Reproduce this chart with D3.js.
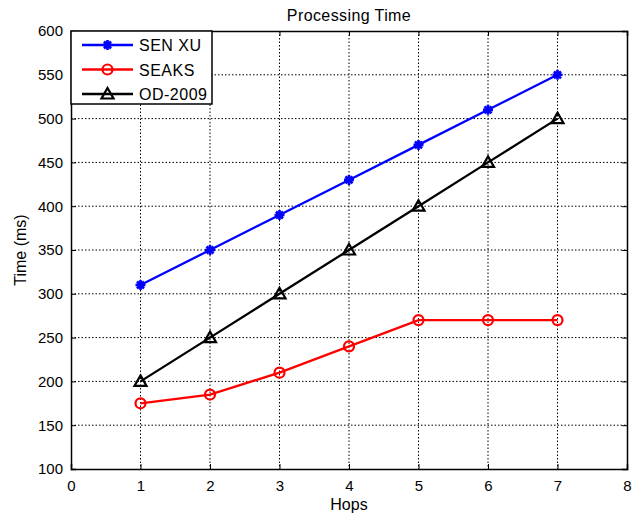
<!DOCTYPE html>
<html>
<head>
<meta charset="utf-8">
<script src="https://cdn.jsdelivr.net/npm/d3@7"></script>
<style>
body { margin: 0; background: #fff; }
text { font-family: "Liberation Sans", Arial, sans-serif; }
</style>
</head>
<body>
<svg id="chart"></svg>
<script>
const hops = [1, 2, 3, 4, 5, 6, 7];
const senXu = [310, 350, 390, 430, 470, 510, 550];
const seaks = [175, 185, 210, 240, 270, 270, 270];
const od2009 = [200, 250, 300, 350, 400, 450, 500];
const xTicks = [0, 1, 2, 3, 4, 5, 6, 7, 8];
const yTicks = [100, 150, 200, 250, 300, 350, 400, 450, 500, 550, 600];

const series = [
    { name: 'SEN XU', values: senXu, color: '#0000ff', marker: 'star' },
    { name: 'SEAKS', values: seaks, color: '#ff0000', marker: 'circle' },
    { name: 'OD-2009', values: od2009, color: '#000000', marker: 'triangle' }
];

const width = 641, height = 516;
const margin = { top: 31, right: 14, bottom: 47, left: 71 };
const innerW = width - margin.left - margin.right;
const innerH = height - margin.top - margin.bottom;

const svg = d3.select('#chart').attr('width', width).attr('height', height);
const chart = svg.append('g').attr('transform', `translate(${margin.left},${margin.top})`);

const xscale = d3.scaleLinear().domain([0, 8]).range([0, innerW]);
const yscale = d3.scaleLinear().domain([100, 600]).range([innerH, 0]);

// grid
chart.selectAll('.gx').data(xTicks.slice(1, -1)).enter().append('line')
    .attr('x1', d => xscale(d)).attr('x2', d => xscale(d))
    .attr('y1', 0).attr('y2', innerH)
    .attr('stroke', '#000').attr('stroke-width', 1).attr('stroke-dasharray', '1.5,2');
chart.selectAll('.gy').data(yTicks.slice(1, -1)).enter().append('line')
    .attr('x1', 0).attr('x2', innerW)
    .attr('y1', d => yscale(d)).attr('y2', d => yscale(d))
    .attr('stroke', '#000').attr('stroke-width', 1).attr('stroke-dasharray', '1.5,2');

// axes
const xaxis = d3.axisBottom(xscale).tickValues(xTicks).tickSize(-5).tickPadding(11).tickFormat(d3.format('d'));
const yaxis = d3.axisLeft(yscale).tickValues(yTicks).tickSize(-5).tickPadding(8).tickFormat(d3.format('d'));
chart.append('g').attr('transform', `translate(0,${innerH})`).call(xaxis);
chart.append('g').call(yaxis);
chart.append('g').call(d3.axisTop(xscale).tickValues(xTicks).tickSize(-5).tickFormat(''));
chart.append('g').attr('transform', `translate(${innerW},0)`).call(d3.axisRight(yscale).tickValues(yTicks).tickSize(-5).tickFormat(''));
chart.selectAll('.domain').attr('stroke', '#000').attr('stroke-width', 1.5);
chart.selectAll('.tick line').attr('stroke', '#000');
chart.selectAll('.tick text').attr('font-size', 15).attr('fill', '#000')
    .attr('font-family', '"Liberation Sans", Arial, sans-serif');

// lines
const line = d3.line().x((d, i) => xscale(hops[i])).y(d => yscale(d));

function drawMarker(g, type, color, size) {
    if (type === 'star') {
        const s = size;
        g.append('path')
            .attr('d', `M${-s},0L${s},0M0,${-s}L0,${s}M${-s * 0.7},${-s * 0.7}L${s * 0.7},${s * 0.7}M${-s * 0.7},${s * 0.7}L${s * 0.7},${-s * 0.7}`)
            .attr('stroke', color).attr('stroke-width', 2.6).attr('fill', 'none');
    } else if (type === 'circle') {
        g.append('circle').attr('r', size).attr('fill', 'none').attr('stroke', color).attr('stroke-width', 2.2);
    } else {
        const s = size + 1;
        g.append('path').attr('d', `M0,${-s}L${s},${s * 0.75}L${-s},${s * 0.75}Z`)
            .attr('fill', 'none').attr('stroke', color).attr('stroke-width', 2.2);
    }
}

series.forEach(s => {
    chart.append('path').datum(s.values).attr('d', line)
        .attr('fill', 'none').attr('stroke', s.color).attr('stroke-width', 2.3);
    s.values.forEach((v, i) => {
        const g = chart.append('g').attr('transform', `translate(${xscale(hops[i])},${yscale(v)})`);
        drawMarker(g, s.marker, s.color, 5);
    });
});

// legend
const legend = chart.append('g');
legend.append('rect').attr('x', 0).attr('y', 0).attr('width', 141).attr('height', 73)
    .attr('fill', '#fff').attr('stroke', '#000').attr('stroke-width', 1.5);
series.forEach((s, i) => {
    const ly = 14 + i * 24.5;
    legend.append('line').attr('x1', 11).attr('x2', 62).attr('y1', ly).attr('y2', ly)
        .attr('stroke', s.color).attr('stroke-width', 2.3);
    const g = legend.append('g').attr('transform', `translate(36.5,${ly})`);
    drawMarker(g, s.marker, s.color, 5);
    legend.append('text').attr('x', 68).attr('y', ly + 6).attr('font-size', 16)
        .attr('letter-spacing', 0.5).text(s.name);
});

// titles
svg.append('text').attr('x', margin.left + innerW / 2).attr('y', 21)
    .attr('text-anchor', 'middle').attr('font-size', 16).attr('letter-spacing', 0.4).text('Processing Time');
svg.append('text').attr('x', margin.left + innerW / 2).attr('y', 510)
    .attr('text-anchor', 'middle').attr('font-size', 16).text('Hops');
svg.append('text').attr('transform', `translate(26,${margin.top + innerH / 2}) rotate(-90)`)
    .attr('text-anchor', 'middle').attr('font-size', 16).text('Time (ms)');
</script>
</body>
</html>
